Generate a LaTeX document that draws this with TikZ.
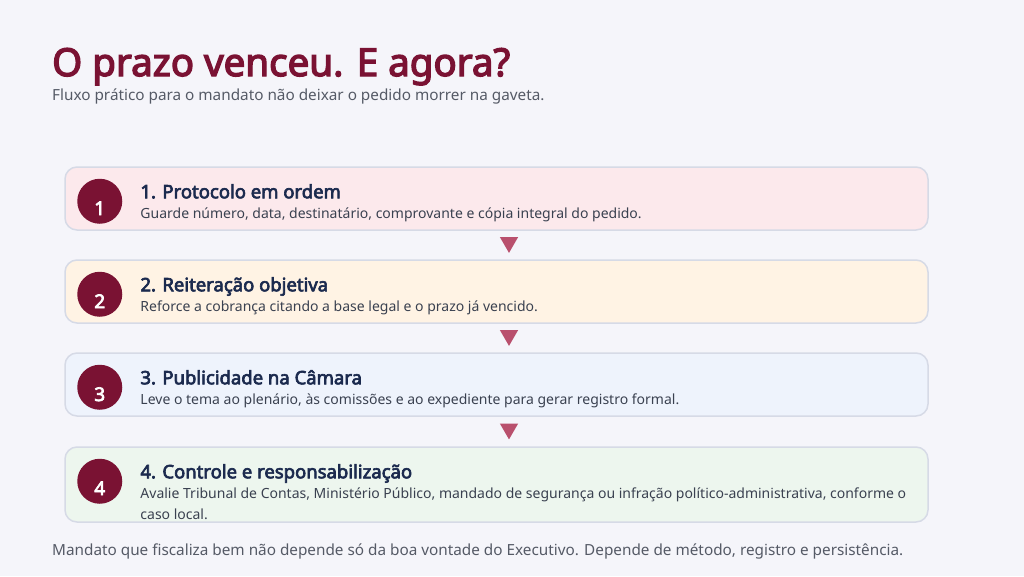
\documentclass[tikz,border=0pt]{standalone}
\usepackage{fontspec}
\setmainfont{Noto Sans}[AutoFakeBold=3.5]
\usetikzlibrary{positioning,shapes.geometric,calc}

\definecolor{pagebg}{HTML}{F5F5FA}
\definecolor{wine}{HTML}{7A1233}
\definecolor{navy}{HTML}{1B2A4E}
\definecolor{bodytxt}{HTML}{3A4150}
\definecolor{greytxt}{HTML}{555A66}
\definecolor{frame}{HTML}{D6DAE6}
\definecolor{pinkfill}{HTML}{FCE9EC}
\definecolor{sandfill}{HTML}{FFF3E4}
\definecolor{skyfill}{HTML}{EEF3FC}
\definecolor{mintfill}{HTML}{EDF6EE}
\definecolor{tipcol}{HTML}{B9506D}

\tikzset{
  stepbox/.style={draw=frame, line width=1.5pt, rounded corners=12pt,
    minimum width=863pt, minimum height=63pt, inner sep=0pt},
  badge/.style={circle, fill=wine, minimum size=45pt, inner sep=0pt},
  badgenum/.style={inner sep=0pt, text=white, font=\fontsize{19}{19}\selectfont\bfseries},
  steptitle/.style={anchor=base west, inner sep=0pt, text=navy,
    font=\fontsize{18.5}{20}\selectfont\bfseries},
  steptext/.style={anchor=base west, inner sep=0pt, text=bodytxt,
    font=\fontsize{14}{21}\selectfont, align=left},
  downtip/.style={regular polygon, regular polygon sides=3, shape border rotate=180,
    fill=tipcol, minimum size=21pt, inner sep=0pt},
}

\begin{document}
\begin{tikzpicture}[x=1pt, y=-1pt, node distance=28.5pt]
    % page
    \fill[pagebg] (0,0) rectangle (1024,576);
    \useasboundingbox (0,0) rectangle (1024,576);

    % heading
    \node[anchor=base west, inner sep=0pt, text=wine, font=\fontsize{38.5}{42}\selectfont\bfseries]
        (head) at (52,76) {O prazo venceu. E agora?};
    \node[anchor=base west, inner sep=0pt, text=greytxt, font=\fontsize{15.3}{18}\selectfont]
        (sub) at (52,100) {Fluxo prático para o mandato não deixar o pedido morrer na gaveta.};

    % steps
    \node[stepbox, fill=pinkfill] (b1) at (496.5,198.5) {};
    \node[stepbox, fill=sandfill, below=of b1] (b2) {};
    \node[stepbox, fill=skyfill, below=of b2] (b3) {};
    \node[stepbox, fill=mintfill, minimum height=75pt, below=29.5pt of b3] (b4) {};

    \foreach \i/\t in {1/Protocolo em ordem, 2/Reiteração objetiva,
                       3/Publicidade na Câmara, 4/Controle e responsabilização} {
        \node[badge] (c\i) at ($(b\i.north west)+(35.5,35)$) {};
        \node[badgenum] (n\i) at ($(c\i)+(0,7)$) {\i};
        \node[steptitle] (t\i) at ($(b\i.north west)+(76,32)$) {\i. \t};
    }

    \node[steptext] (d1) at ($(b1.north west)+(76,52.5)$)
        {Guarde número, data, destinatário, comprovante e cópia integral do pedido.};
    \node[steptext] (d2) at ($(b2.north west)+(76,52.5)$)
        {Reforce a cobrança citando a base legal e o prazo já vencido.};
    \node[steptext] (d3) at ($(b3.north west)+(76,52.5)$)
        {Leve o tema ao plenário, às comissões e ao expediente para gerar registro formal.};
    \node[steptext] (d4) at ($(b4.north west)+(76,73)$)
        {Avalie Tribunal de Contas, Ministério Público, mandado de segurança ou infração político-administrativa, conforme o\\caso local.};

    % markers between steps
    \foreach \a/\b in {1/2, 2/3, 3/4}
        \node[downtip] (m\a) at ($($(b\a.south)!0.5!(b\b.north)$)+(12.5,-2.6)$) {};

    % closing line
    \node[anchor=base west, inner sep=0pt, text=greytxt, font=\fontsize{15.3}{18}\selectfont]
        (foot) at (52,555) {Mandato que fiscaliza bem não depende só da boa vontade do Executivo. Depende de método, registro e persistência.};
\end{tikzpicture}
\end{document}
